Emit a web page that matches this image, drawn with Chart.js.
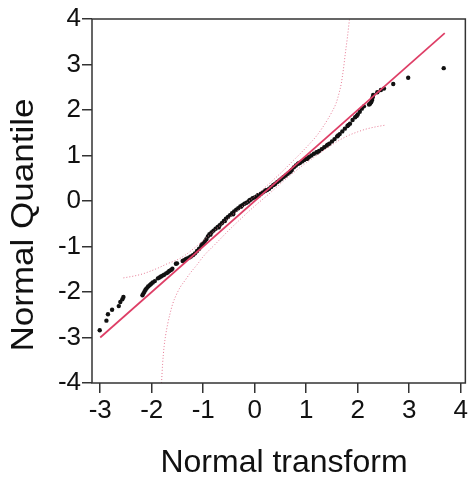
<!DOCTYPE html>
<html>
<head>
<meta charset="utf-8">
<script src="https://cdn.jsdelivr.net/npm/chart.js@4.4.1/dist/chart.umd.min.js"></script>
<style>
  html, body { margin: 0; padding: 0; background: #fff; }
  #wrap { width: 470px; height: 479px; }
</style>
</head>
<body>
<div id="wrap"><canvas id="qq" width="470" height="479"></canvas></div>
<script>
// tick labels
const xTicks = [-3, -2, -1, 0, 1, 2, 3, 4];
const yTicks = [-4, -3, -2, -1, 0, 1, 2, 3, 4];
const xTitle = 'Normal transform';
const yTitle = 'Normal Quantile';

// observed points: normal transform (x) vs normal quantile (y)
const transformVals = [
  -3.01, -2.88, -2.85, -2.77, -2.64, -2.61, -2.57, -2.55,
  -2.18, -2.16, -2.14, -2.12, -2.10, -2.07, -2.04, -2.01, -1.98, -1.94,
  -1.88, -1.85, -1.82, -1.79, -1.76, -1.72, -1.69, -1.66, -1.63, -1.60,
  -1.53, -1.51,
  -1.40, -1.37, -1.34, -1.31, -1.27, -1.24, -1.20, -1.16, -1.12, -1.08,
  -1.04, -1.00, -0.97, -0.94, -0.91, -0.88, -0.84, -0.80, -0.76, -0.72,
  -0.68, -0.64, -0.60, -0.56, -0.52, -0.48, -0.44, -0.40, -0.36, -0.32,
  -0.28, -0.24, -0.20, -0.16, -0.12, -0.08, -0.04, 0.00, 0.04, 0.08,
  0.12, 0.16, 0.20, 0.24, 0.28, 0.32, 0.36, 0.40, 0.44, 0.48,
  0.52, 0.56, 0.60, 0.64, 0.68, 0.72, 0.76, 0.80, 0.84, 0.88,
  0.92, 0.96, 1.00, 1.05, 1.10, 1.15, 1.20, 1.25, 1.30, 1.35,
  1.40, 1.45, 1.50, 1.55, 1.60, 1.65, 1.70, 1.75, 1.80, 1.85,
  1.90, 1.95, 2.00, 2.04, 2.08, 2.12,
  2.22, 2.24, 2.26, 2.28, 2.29, 2.30, 2.38, 2.45, 2.51, 2.69, 2.98, 3.67,
  -1.02, -0.86, -0.70, -0.58, -0.42, -0.26, -0.10, 0.06, 0.22, 0.38,
  0.70, 0.86, 1.02, 1.22, 1.42, 1.62, 1.82, 1.98
];
const quantileVals = [
  -2.84, -2.63, -2.49, -2.39, -2.31, -2.22, -2.16, -2.11,
  -2.07, -2.03, -1.99, -1.95, -1.92, -1.88, -1.85, -1.82, -1.79, -1.76,
  -1.70, -1.68, -1.66, -1.64, -1.62, -1.59, -1.57, -1.54, -1.52, -1.49,
  -1.38, -1.37,
  -1.32, -1.30, -1.28, -1.26, -1.24, -1.22, -1.19, -1.15, -1.10, -1.05,
  -0.99, -0.94, -0.89, -0.84, -0.78, -0.73, -0.69, -0.65, -0.61, -0.57,
  -0.53, -0.49, -0.44, -0.39, -0.35, -0.31, -0.27, -0.23, -0.19, -0.16,
  -0.12, -0.09, -0.06, -0.04, -0.01, 0.03, 0.06, 0.08, 0.10, 0.12,
  0.16, 0.19, 0.22, 0.24, 0.27, 0.31, 0.35, 0.38, 0.42, 0.45,
  0.49, 0.53, 0.56, 0.60, 0.63, 0.68, 0.74, 0.78, 0.82, 0.84,
  0.87, 0.90, 0.93, 0.96, 1.00, 1.04, 1.07, 1.10, 1.14, 1.18,
  1.22, 1.26, 1.31, 1.36, 1.42, 1.47, 1.53, 1.59, 1.65, 1.70,
  1.78, 1.84, 1.90, 1.96, 2.03, 2.08,
  2.12, 2.14, 2.17, 2.22, 2.28, 2.33, 2.39, 2.44, 2.47, 2.57, 2.71, 2.92,
  -0.95, -0.74, -0.58, -0.44, -0.29, -0.12, 0.02, 0.13, 0.24, 0.36,
  0.66, 0.83, 0.93, 1.07, 1.24, 1.44, 1.67, 1.87
];

// fitted line ends
const fitX = [-3.00, 3.69];
const fitY = [-3.00, 3.69];

// confidence band, upper-left branch
const upperX = [-2.55, -2.35, -2.17, -2.00, -1.85, -1.70, -1.52, -1.35, -1.20, -1.00,
  -0.75, -0.50, -0.25, 0.00, 0.25, 0.50, 0.75, 0.90, 1.06, 1.20,
  1.32, 1.42, 1.50, 1.58, 1.64, 1.68, 1.72, 1.76, 1.80, 1.84];
const upperY = [-1.69, -1.65, -1.60, -1.53, -1.46, -1.38, -1.30, -1.19, -1.06, -0.87,
  -0.62, -0.37, -0.13, 0.10, 0.35, 0.61, 0.89, 1.06, 1.25, 1.43,
  1.62, 1.80, 1.96, 2.15, 2.38, 2.58, 2.88, 3.25, 3.60, 4.00];

// confidence band, lower-right branch
const lowerX = [-1.81, -1.79, -1.76, -1.73, -1.69, -1.65, -1.59, -1.53, -1.45, -1.35,
  -1.25, -1.12, -1.00, -0.75, -0.50, -0.25, 0.00, 0.25, 0.50, 0.75,
  1.00, 1.19, 1.35, 1.52, 1.68, 1.84, 2.00, 2.16, 2.35, 2.55];
const lowerY = [-4.00, -3.60, -3.20, -2.95, -2.70, -2.50, -2.25, -2.08, -1.90, -1.74,
  -1.58, -1.40, -1.22, -0.93, -0.64, -0.37, -0.11, 0.13, 0.38, 0.62,
  0.84, 0.99, 1.12, 1.25, 1.36, 1.45, 1.52, 1.58, 1.63, 1.67];

const pairs = (xs, ys) => xs.map((x, i) => ({ x: x, y: ys[i] }));

const FONT = '"Liberation Sans", Arial, Helvetica, sans-serif';
const AXIS = '#333';

// box around the plot plus the two axis titles
const frame = {
  id: 'frame',
  afterDatasetsDraw(chart) {
    const { ctx, chartArea: a } = chart;
    ctx.save();
    ctx.strokeStyle = AXIS;
    ctx.lineWidth = 1.5;
    ctx.strokeRect(a.left, a.top, a.right - a.left, a.bottom - a.top);

    ctx.fillStyle = '#111';
    ctx.textAlign = 'center';
    ctx.textBaseline = 'alphabetic';
    ctx.font = '32px ' + FONT;
    ctx.fillText(xTitle, 284, 472);

    ctx.translate(33, 225);
    ctx.rotate(-Math.PI / 2);
    ctx.scale(1.13, 1);
    ctx.font = '31px ' + FONT;
    ctx.fillText(yTitle, 0, 0);
    ctx.restore();
  }
};

const bandStyle = {
  type: 'line',
  borderColor: '#e67a94',
  borderWidth: 1,
  borderDash: [1, 2],
  pointRadius: 0,
  fill: false,
  cubicInterpolationMode: 'monotone'
};

new Chart(document.getElementById('qq'), {
  type: 'scatter',
  data: {
    datasets: [
      {
        type: 'line',
        data: pairs(fitX, fitY),
        borderColor: '#de3e66',
        borderWidth: 1.7,
        pointRadius: 0,
        fill: false
      },
      Object.assign({ data: pairs(upperX, upperY) }, bandStyle),
      Object.assign({ data: pairs(lowerX, lowerY) }, bandStyle),
      {
        data: pairs(transformVals, quantileVals),
        backgroundColor: '#111',
        borderColor: '#111',
        pointRadius: 2.2,
        borderWidth: 0
      }
    ]
  },
  options: {
    responsive: false,
    animation: false,
    layout: { padding: { top: 19, right: 4, left: 0, bottom: 0 } },
    plugins: { legend: { display: false }, tooltip: { enabled: false } },
    scales: {
      x: {
        type: 'linear',
        min: -3.16,
        max: 4.09,
        afterBuildTicks: axis => { axis.ticks = xTicks.map(v => ({ value: v })); },
        afterFit: axis => { axis.height = 96; },
        border: { display: false },
        grid: { drawOnChartArea: false, drawTicks: true, tickLength: 10, color: AXIS, lineWidth: 1.5 },
        ticks: { color: '#111', padding: 2, maxRotation: 0, font: { family: FONT, size: 26 } }
      },
      y: {
        type: 'linear',
        min: -4,
        max: 4,
        afterBuildTicks: axis => { axis.ticks = yTicks.map(v => ({ value: v })); },
        afterFit: axis => { axis.width = 92; },
        border: { display: false },
        grid: { drawOnChartArea: false, drawTicks: true, tickLength: 10, color: AXIS, lineWidth: 1.5 },
        ticks: { color: '#111', padding: 1, font: { family: FONT, size: 26 } }
      }
    }
  },
  plugins: [frame]
});
</script>
</body>
</html>
